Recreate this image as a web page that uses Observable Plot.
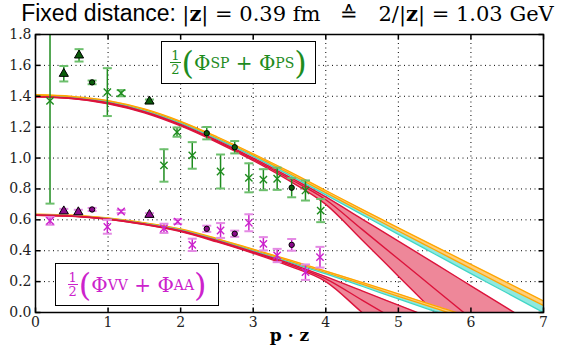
<!DOCTYPE html>
<html><head><meta charset="utf-8">
<script src="https://cdn.jsdelivr.net/npm/d3@7"></script>
<script src="https://cdn.jsdelivr.net/npm/@observablehq/plot@0.6"></script>
<style>
body{margin:0;background:#fff;}
#wrap{position:relative;width:561px;height:348px;overflow:hidden;}
#title{position:absolute;left:7px;top:0px;width:561px;text-align:center;white-space:nowrap;font-size:23px;line-height:26px;color:#000;}
.sans{font-family:"Liberation Sans","DejaVu Sans",Arial,sans-serif;}
.serif{font-family:"DejaVu Serif",serif;font-size:21px;}
.box{position:absolute;background:#fff;border:1.5px solid #000;display:flex;align-items:center;justify-content:center;font-family:"DejaVu Serif",serif;font-size:20px;box-sizing:border-box;white-space:nowrap;}
.frac{display:inline-flex;flex-direction:column;align-items:center;font-size:13px;line-height:13px;vertical-align:middle;margin-right:1px;}
.frac .num{border-bottom:1.5px solid currentColor;padding:0 1px;}
.paren{font-size:32px;line-height:1;vertical-align:-4px;font-weight:normal;}
.box sup{font-size:14px;vertical-align:9px;line-height:0;}
</style></head>
<body><div id="wrap">
<div id="title"><span class="sans">Fixed distance: </span><span class="serif">|<b>z</b>| = 0.39 fm &nbsp; ≙ &nbsp; 2/|<b>z</b>| = 1.03 GeV</span></div>
<div class="box" style="left:161px;top:41px;width:155px;height:43px;color:#1e8c1e;"><span class="frac"><span class="num">1</span><span>2</span></span><span class="paren">(</span>Φ<sup>SP</sup>&nbsp;+&nbsp;Φ<sup>PS</sup><span class="paren">)</span></div>
<div class="box" style="left:55px;top:263px;width:164px;height:43px;color:#cc22cc;"><span class="frac"><span class="num">1</span><span>2</span></span><span class="paren">(</span>Φ<sup>VV</sup>&nbsp;+&nbsp;Φ<sup>AA</sup><span class="paren">)</span></div>
</div>
<script>
// ---- axis ticks ----
const xTicks = [0, 1, 2, 3, 4, 5, 6, 7];
const yTicks = [0, 0.2, 0.4, 0.6, 0.8, 1.0, 1.2, 1.4, 1.6, 1.8];

// ---- model bands (sampled at bandX) ----
const bandX      = [0, 0.5, 1, 1.5, 2, 2.5, 3, 3.5, 4, 4.5, 5, 5.5, 6, 6.5, 7];
const spOrangeHi = [1.41, 1.40, 1.372, 1.318, 1.238, 1.138, 1.028, 0.912, 0.790, 0.668, 0.548, 0.430, 0.312, 0.193, 0.075];
const spOrangeLo = [1.405, 1.395, 1.367, 1.312, 1.231, 1.13, 1.019, 0.900, 0.776, 0.652, 0.528, 0.406, 0.284, 0.163, 0.045];
const spCyanLo   = [1.40, 1.39, 1.362, 1.306, 1.224, 1.122, 1.01, 0.888, 0.762, 0.634, 0.506, 0.379, 0.252, 0.126, 0.0];
const spPinkHi   = [1.398, 1.388, 1.358, 1.301, 1.218, 1.114, 1.0, 0.877, 0.748, 0.605, 0.462, 0.318, 0.173, 0.028, -0.117];
const spPinkMid  = [1.397, 1.386, 1.355, 1.297, 1.213, 1.108, 0.992, 0.866, 0.730, 0.538, 0.346, 0.154, -0.038, -0.23, -0.42];
const spPinkLo   = [1.396, 1.385, 1.352, 1.293, 1.208, 1.102, 0.984, 0.852, 0.700, 0.470, 0.235, 0.0, -0.235, -0.47, -0.7];
const vvOrangeHi = [0.636, 0.630, 0.612, 0.581, 0.541, 0.479, 0.410, 0.340, 0.268, 0.195, 0.12, 0.045, -0.03, -0.1, -0.17];
const vvOrangeLo = [0.634, 0.628, 0.610, 0.578, 0.537, 0.474, 0.404, 0.332, 0.259, 0.183, 0.105, 0.028, -0.05, -0.12, -0.2];
const vvCyanLo   = [0.632, 0.626, 0.607, 0.575, 0.533, 0.469, 0.398, 0.325, 0.250, 0.170, 0.088, 0.008, -0.07, -0.15, -0.23];
const vvPinkHi   = [0.631, 0.625, 0.606, 0.573, 0.530, 0.465, 0.393, 0.318, 0.232, 0.140, 0.048, -0.044, -0.136, -0.228, -0.32];
const vvPinkMid  = [0.630, 0.624, 0.604, 0.571, 0.527, 0.461, 0.388, 0.310, 0.218, 0.080, -0.058, -0.196, -0.334, -0.47, -0.6];
const vvPinkLo   = [0.629, 0.623, 0.603, 0.569, 0.524, 0.457, 0.383, 0.300, 0.200, 0.0, -0.2, -0.4, -0.6, -0.8, -1.0];

// ---- lattice data: SP+PS (green) ----
const spCrossX   = [0.2, 0.99, 1.18, 1.77, 1.95, 2.16, 2.55, 2.94, 3.14, 3.33, 3.72, 3.93];
const spCrossY   = [1.37, 1.427, 1.42, 0.952, 1.168, 1.017, 0.913, 0.872, 0.86, 0.866, 0.79, 0.66];
const spCrossErr = [0.665, 0.155, 0.02, 0.105, 0.03, 0.086, 0.11, 0.094, 0.068, 0.072, 0.065, 0.075];
const spTriX     = [0.39, 0.6, 1.57];
const spTriY     = [1.546, 1.665, 1.367];
const spTriErr   = [0.05, 0.04, 0.012];
const spDotX     = [0.78, 2.36, 2.745, 3.53];
const spDotY     = [1.49, 1.161, 1.07, 0.808];
const spDotErr   = [0.012, 0.04, 0.04, 0.062];

// ---- lattice data: VV+AA (magenta) ----
const vvCrossX   = [0.2, 0.99, 1.18, 1.77, 1.96, 2.16, 2.55, 2.94, 3.14, 3.33, 3.72, 3.92];
const vvCrossY   = [0.593, 0.555, 0.654, 0.545, 0.589, 0.438, 0.531, 0.581, 0.445, 0.369, 0.261, 0.358];
const vvCrossErr = [0.025, 0.045, 0.01, 0.03, 0.015, 0.04, 0.048, 0.055, 0.043, 0.043, 0.05, 0.067];
const vvTriX     = [0.39, 0.59, 1.57];
const vvTriY     = [0.656, 0.65, 0.633];
const vvTriErr   = [0.015, 0.015, 0.01];
const vvDotX     = [0.78, 2.36, 2.745, 3.53];
const vvDotY     = [0.667, 0.542, 0.51, 0.438];
const vvDotErr   = [0.01, 0.02, 0.02, 0.038];

// ---- build tables ----
const band = (hi, lo) => bandX.map((x, i) => ({x, hi: hi[i], lo: lo[i]}));
const curve = (ys) => bandX.map((x, i) => ({x, y: ys[i]}));
const pts = (X, Y, E) => X.map((x, i) => ({x, y: Y[i], e: E[i]}));

const GREEN = "#1e8c1e", GREEN_CAP = "#6cbf6c", GREEN_DARK = "#0a5c0a";
const MAG = "#cc22cc", MAG_CAP = "#e48ae4", MAG_DARK = "#8a0a8a";
const PINK = "#ee8799", RED = "#dc143c", CYAN = "#8fe9df", CYAN_L = "#3fd6c6", ORANGE = "#ffcf7a", ORANGE_L = "#ffa500";
const SERIF = "DejaVu Serif";

const cap = {draw(ctx) { ctx.moveTo(-4.5, 0); ctx.lineTo(4.5, 0); }};
const tUp = {draw(ctx) { ctx.moveTo(0, 0); ctx.lineTo(0, -5); }};
const tDown = {draw(ctx) { ctx.moveTo(0, 0); ctx.lineTo(0, 5); }};
const tRight = {draw(ctx) { ctx.moveTo(0, 0); ctx.lineTo(5, 0); }};
const tLeft = {draw(ctx) { ctx.moveTo(0, 0); ctx.lineTo(-5, 0); }};

function bandMarks(oh, ol, cl, ph, pm, pl) {
  return [
    Plot.areaY(band(oh, ol), {x: "x", y1: "lo", y2: "hi", fill: ORANGE, curve: "monotone-x", clip: true}),
    Plot.areaY(band(ol, cl), {x: "x", y1: "lo", y2: "hi", fill: CYAN, curve: "monotone-x", clip: true}),
    Plot.line(curve(oh), {x: "x", y: "y", stroke: ORANGE_L, strokeWidth: 1.3, curve: "monotone-x", clip: true}),
    Plot.line(curve(ol), {x: "x", y: "y", stroke: ORANGE_L, strokeWidth: 1.3, curve: "monotone-x", clip: true}),
    Plot.line(curve(cl), {x: "x", y: "y", stroke: CYAN_L, strokeWidth: 1.3, curve: "monotone-x", clip: true}),
    Plot.areaY(band(ph, pl), {x: "x", y1: "lo", y2: "hi", fill: PINK, curve: "monotone-x", clip: true}),
    Plot.line(curve(ph), {x: "x", y: "y", stroke: RED, strokeWidth: 1.4, curve: "monotone-x", clip: true}),
    Plot.line(curve(pm), {x: "x", y: "y", stroke: RED, strokeWidth: 1.4, curve: "monotone-x", clip: true}),
    Plot.line(curve(pl), {x: "x", y: "y", stroke: RED, strokeWidth: 1.4, curve: "monotone-x", clip: true})
  ];
}

function errMarks(data, bar, capColor) {
  return [
    Plot.ruleX(data, {x: "x", y1: d => d.y - d.e, y2: d => d.y + d.e, stroke: bar, strokeWidth: 1.5, clip: true}),
    Plot.dot(data, {x: "x", y: d => d.y - d.e, symbol: cap, stroke: capColor, strokeWidth: 2, fill: "none", clip: true}),
    Plot.dot(data, {x: "x", y: d => d.y + d.e, symbol: cap, stroke: capColor, strokeWidth: 2, fill: "none", clip: true})
  ];
}

function seriesMarks(cross, tri, dot, col, capCol, dark) {
  return [
    ...errMarks(cross, col, capCol),
    ...errMarks(tri, col, capCol),
    ...errMarks(dot, col, capCol),
    Plot.dot(cross, {x: "x", y: "y", symbol: "times", r: 3.4, stroke: col, strokeWidth: 1.4}),
    Plot.dot(tri, {x: "x", y: "y", symbol: "triangle", r: 3.4, fill: dark, stroke: "black", strokeWidth: 1}),
    Plot.dot(dot, {x: "x", y: "y", symbol: "circle", r: 2.7, fill: dark, stroke: "black", strokeWidth: 1})
  ];
}

const chart = Plot.plot({
  width: 561,
  height: 348,
  marginLeft: 35,
  marginRight: 18,
  marginTop: 34,
  marginBottom: 36,
  x: {domain: [0, 7], axis: null},
  y: {domain: [0, 1.8], axis: null},
  style: {background: "white"},
  marks: [
    Plot.ruleX(xTicks, {x: d => d, stroke: "black", strokeDasharray: "1,3.5", strokeWidth: 1}),
    Plot.ruleY(yTicks, {y: d => d, stroke: "black", strokeDasharray: "1,3.5", strokeWidth: 1}),
    ...bandMarks(spOrangeHi, spOrangeLo, spCyanLo, spPinkHi, spPinkMid, spPinkLo),
    ...bandMarks(vvOrangeHi, vvOrangeLo, vvCyanLo, vvPinkHi, vvPinkMid, vvPinkLo),
    ...seriesMarks(pts(spCrossX, spCrossY, spCrossErr), pts(spTriX, spTriY, spTriErr), pts(spDotX, spDotY, spDotErr), GREEN, GREEN_CAP, GREEN_DARK),
    ...seriesMarks(pts(vvCrossX, vvCrossY, vvCrossErr), pts(vvTriX, vvTriY, vvTriErr), pts(vvDotX, vvDotY, vvDotErr), MAG, MAG_CAP, MAG_DARK),
    Plot.frame({stroke: "black", strokeWidth: 1.5}),
    Plot.dot(xTicks, {x: d => d, y: 0, symbol: tUp, stroke: "black", fill: "none"}),
    Plot.dot(xTicks, {x: d => d, y: 1.8, symbol: tDown, stroke: "black", fill: "none"}),
    Plot.dot(yTicks, {x: 0, y: d => d, symbol: tRight, stroke: "black", fill: "none"}),
    Plot.dot(yTicks, {x: 7, y: d => d, symbol: tLeft, stroke: "black", fill: "none"}),
    Plot.text(xTicks, {x: d => d, frameAnchor: "bottom", dy: 14, text: d => String(d), fontFamily: SERIF, fontSize: 14, fill: "#222"}),
    Plot.text(yTicks, {y: d => d, frameAnchor: "left", dx: -4, textAnchor: "end", text: d => d.toFixed(1), fontFamily: SERIF, fontSize: 14, fill: "#222"}),
    Plot.text(["p · z"], {x: 3.5, frameAnchor: "bottom", dy: 28, text: d => d, fontFamily: SERIF, fontWeight: "bold", fontSize: 17, fill: "#000"})
  ]
});
document.getElementById("wrap").prepend(chart);
</script>
</body></html>
